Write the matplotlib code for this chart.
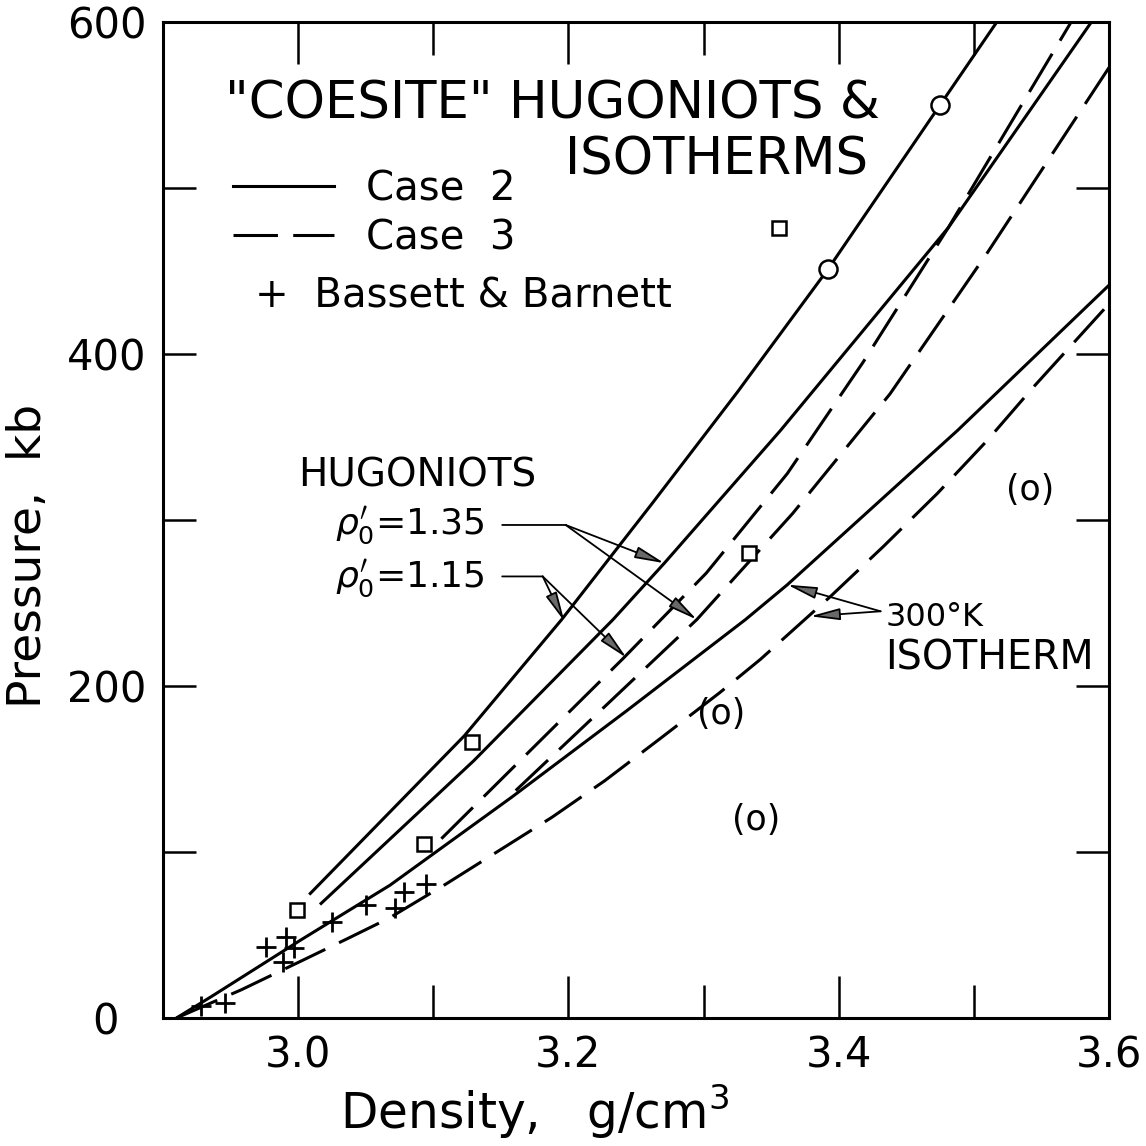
import matplotlib.pyplot as plt

plt.rcParams['font.family'] = 'DejaVu Sans'
plt.rcParams['mathtext.fontset'] = 'dejavusans'
plt.rcParams['lines.scale_dashes'] = False

# Hugoniots, rho0' = 1.15 (case 2 solid, case 3 dashed)
hug115_c2_rho = [3.009, 3.123, 3.195, 3.262, 3.325, 3.392, 3.475, 3.517]
hug115_c2_p = [75, 170, 240, 310, 377, 451, 550, 600]
hug115_c3_rho = [3.106, 3.241, 3.302, 3.362, 3.418, 3.481, 3.572]
hug115_c3_p = [108, 217, 268, 328, 395, 476, 600]

# Hugoniots, rho0' = 1.35
hug135_c2_rho = [3.017, 3.130, 3.233, 3.271, 3.357, 3.481, 3.587]
hug135_c2_p = [69, 155, 240, 274, 354, 476, 600]
hug135_c3_rho = [3.161, 3.230, 3.295, 3.366, 3.438, 3.510, 3.602]
hug135_c3_p = [137, 190, 240, 304, 376, 461, 575]

# 300 K isotherms
iso_c2_rho = [2.910, 2.936, 3.002, 3.068, 3.158, 3.243, 3.331, 3.362, 3.488, 3.602]
iso_c2_p = [0, 13, 47, 80, 133, 185, 240, 261, 354, 443]
iso_c3_rho = [2.910, 2.958, 3.004, 3.037, 3.067, 3.110, 3.149, 3.188, 3.227,
              3.269, 3.312, 3.342, 3.394, 3.433, 3.473, 3.510, 3.544, 3.602]
iso_c3_p = [0, 17, 35, 48, 60, 81, 101, 121, 143,
            169, 196, 216, 254, 284, 316, 348, 380, 432]

# Bassett & Barnett static points
bb_rho = [2.928, 2.946, 2.976, 2.991, 2.997, 2.989, 3.025, 3.050, 3.078, 3.072, 3.095]
bb_p = [7, 9, 43, 49, 42, 34, 58, 68, 76, 66, 81]

# shock data
sq_rho = [2.999, 3.093, 3.129, 3.334, 3.356]
sq_p = [65, 105, 166, 280, 476]
circ_rho = [3.392, 3.475]
circ_p = [451, 550]
paren_rho = [3.313, 3.339, 3.542]
paren_p = [183, 119, 318]

LW = 2.2
DASH = (0, (32, 11))

fig = plt.figure(figsize=(11.46, 11.46), dpi=100)
ax = fig.add_axes([0.1422, 0.1117, 0.8255, 0.8691])

for rho, p, ls in [(hug115_c2_rho, hug115_c2_p, '-'),
                   (hug135_c2_rho, hug135_c2_p, '-'),
                   (iso_c2_rho, iso_c2_p, '-'),
                   (hug115_c3_rho, hug115_c3_p, DASH),
                   (hug135_c3_rho, hug135_c3_p, DASH),
                   (iso_c3_rho, iso_c3_p, DASH)]:
    ax.plot(rho, p, color='black', lw=LW, ls=ls, dash_capstyle='butt',
            solid_joinstyle='round')

ax.plot(bb_rho, bb_p, '+', ms=14, mew=2, color='black', zorder=4)
ax.plot(sq_rho, sq_p, 's', ms=10, mfc='white', mec='black', mew=1.8, zorder=4)
ax.plot(circ_rho, circ_p, 'o', ms=13, mfc='white', mec='black', mew=1.8, zorder=4)
for r, p in zip(paren_rho, paren_p):
    ax.text(r, p, '(o)', fontsize=25, ha='center', va='center')

ax.set_xlim(2.9, 3.6)
ax.set_ylim(0, 600)
ax.set_xticks([3.0, 3.2, 3.4, 3.6])
ax.set_xticks([3.1, 3.3, 3.5], minor=True)
ax.set_xticklabels(['3.0', '3.2', '3.4', '3.6'])
ax.set_yticks([0, 200, 400, 600])
ax.set_yticks([100, 300, 500], minor=True)
ax.set_yticklabels(['0  ', '200', '400', '600'])
ax.tick_params(which='both', direction='in', top=True, right=True, width=1.8, labelsize=30)
ax.tick_params(axis='x', which='major', length=30, pad=12)
ax.tick_params(axis='x', which='minor', length=24)
ax.tick_params(axis='y', which='both', length=24, pad=12)
for s in ax.spines.values():
    s.set_linewidth(LW)

ax.set_xlabel('Density,   g/cm$^3$', fontsize=35)
ax.xaxis.set_label_coords(0.393, -0.064)
ax.set_ylabel('Pressure,  kb', fontsize=34)
ax.yaxis.set_label_coords(-0.118, 0.464)

# heading and key
ax.text(0.758, 0.917, '"COESITE" HUGONIOTS &', transform=ax.transAxes,
        fontsize=37, ha='right', va='center')
ax.text(0.745, 0.861, 'ISOTHERMS', transform=ax.transAxes,
        fontsize=37, ha='right', va='center')
ax.plot([], [], color='black', lw=LW, label='Case  2')
ax.plot([], [], color='black', lw=LW, ls=DASH, label='Case  3')
ax.legend(loc='upper left', bbox_to_anchor=(0.074, 0.852), frameon=False,
          fontsize=29, handlelength=2.5, handletextpad=0.8, labelspacing=0.22,
          borderpad=0, borderaxespad=0)
ax.text(0.097, 0.724, '+  Bassett & Barnett', transform=ax.transAxes,
        fontsize=29, ha='left', va='center')

# hugoniot labels with leaders
ax.text(0.143, 0.545, 'HUGONIOTS', transform=ax.transAxes, fontsize=28, va='center')
ax.text(0.182, 0.495, r"$\rho_0'$=1.35", transform=ax.transAxes, fontsize=26, va='center')
ax.text(0.182, 0.442, r"$\rho_0'$=1.15", transform=ax.transAxes, fontsize=26, va='center')

head = dict(arrowstyle='-|>,head_length=0.9,head_width=0.18', color='black',
            fc='dimgray', lw=1.3, mutation_scale=20, shrinkA=0, shrinkB=0)
plain = dict(arrowstyle='-', color='black', lw=1.3, shrinkA=0, shrinkB=0)

ax.annotate('', xy=(3.198, 297), xytext=(3.151, 297), arrowprops=plain)
ax.annotate('', xy=(3.271, 274), xytext=(3.198, 297), arrowprops=head)
ax.annotate('', xy=(3.295, 240), xytext=(3.198, 297), arrowprops=head)

ax.annotate('', xy=(3.181, 266), xytext=(3.151, 266), arrowprops=plain)
ax.annotate('', xy=(3.197, 239), xytext=(3.181, 266), arrowprops=head)
ax.annotate('', xy=(3.243, 217), xytext=(3.181, 266), arrowprops=head)

# isotherm label
ax.text(0.764, 0.402, '300°K', transform=ax.transAxes, fontsize=23, va='center')
ax.text(0.763, 0.361, 'ISOTHERM', transform=ax.transAxes, fontsize=28.5, va='center')
ax.annotate('', xy=(3.362, 261), xytext=(3.431, 245), arrowprops=head)
ax.annotate('', xy=(3.379, 242), xytext=(3.431, 245), arrowprops=head)

fig.savefig('out.png', dpi=100)
